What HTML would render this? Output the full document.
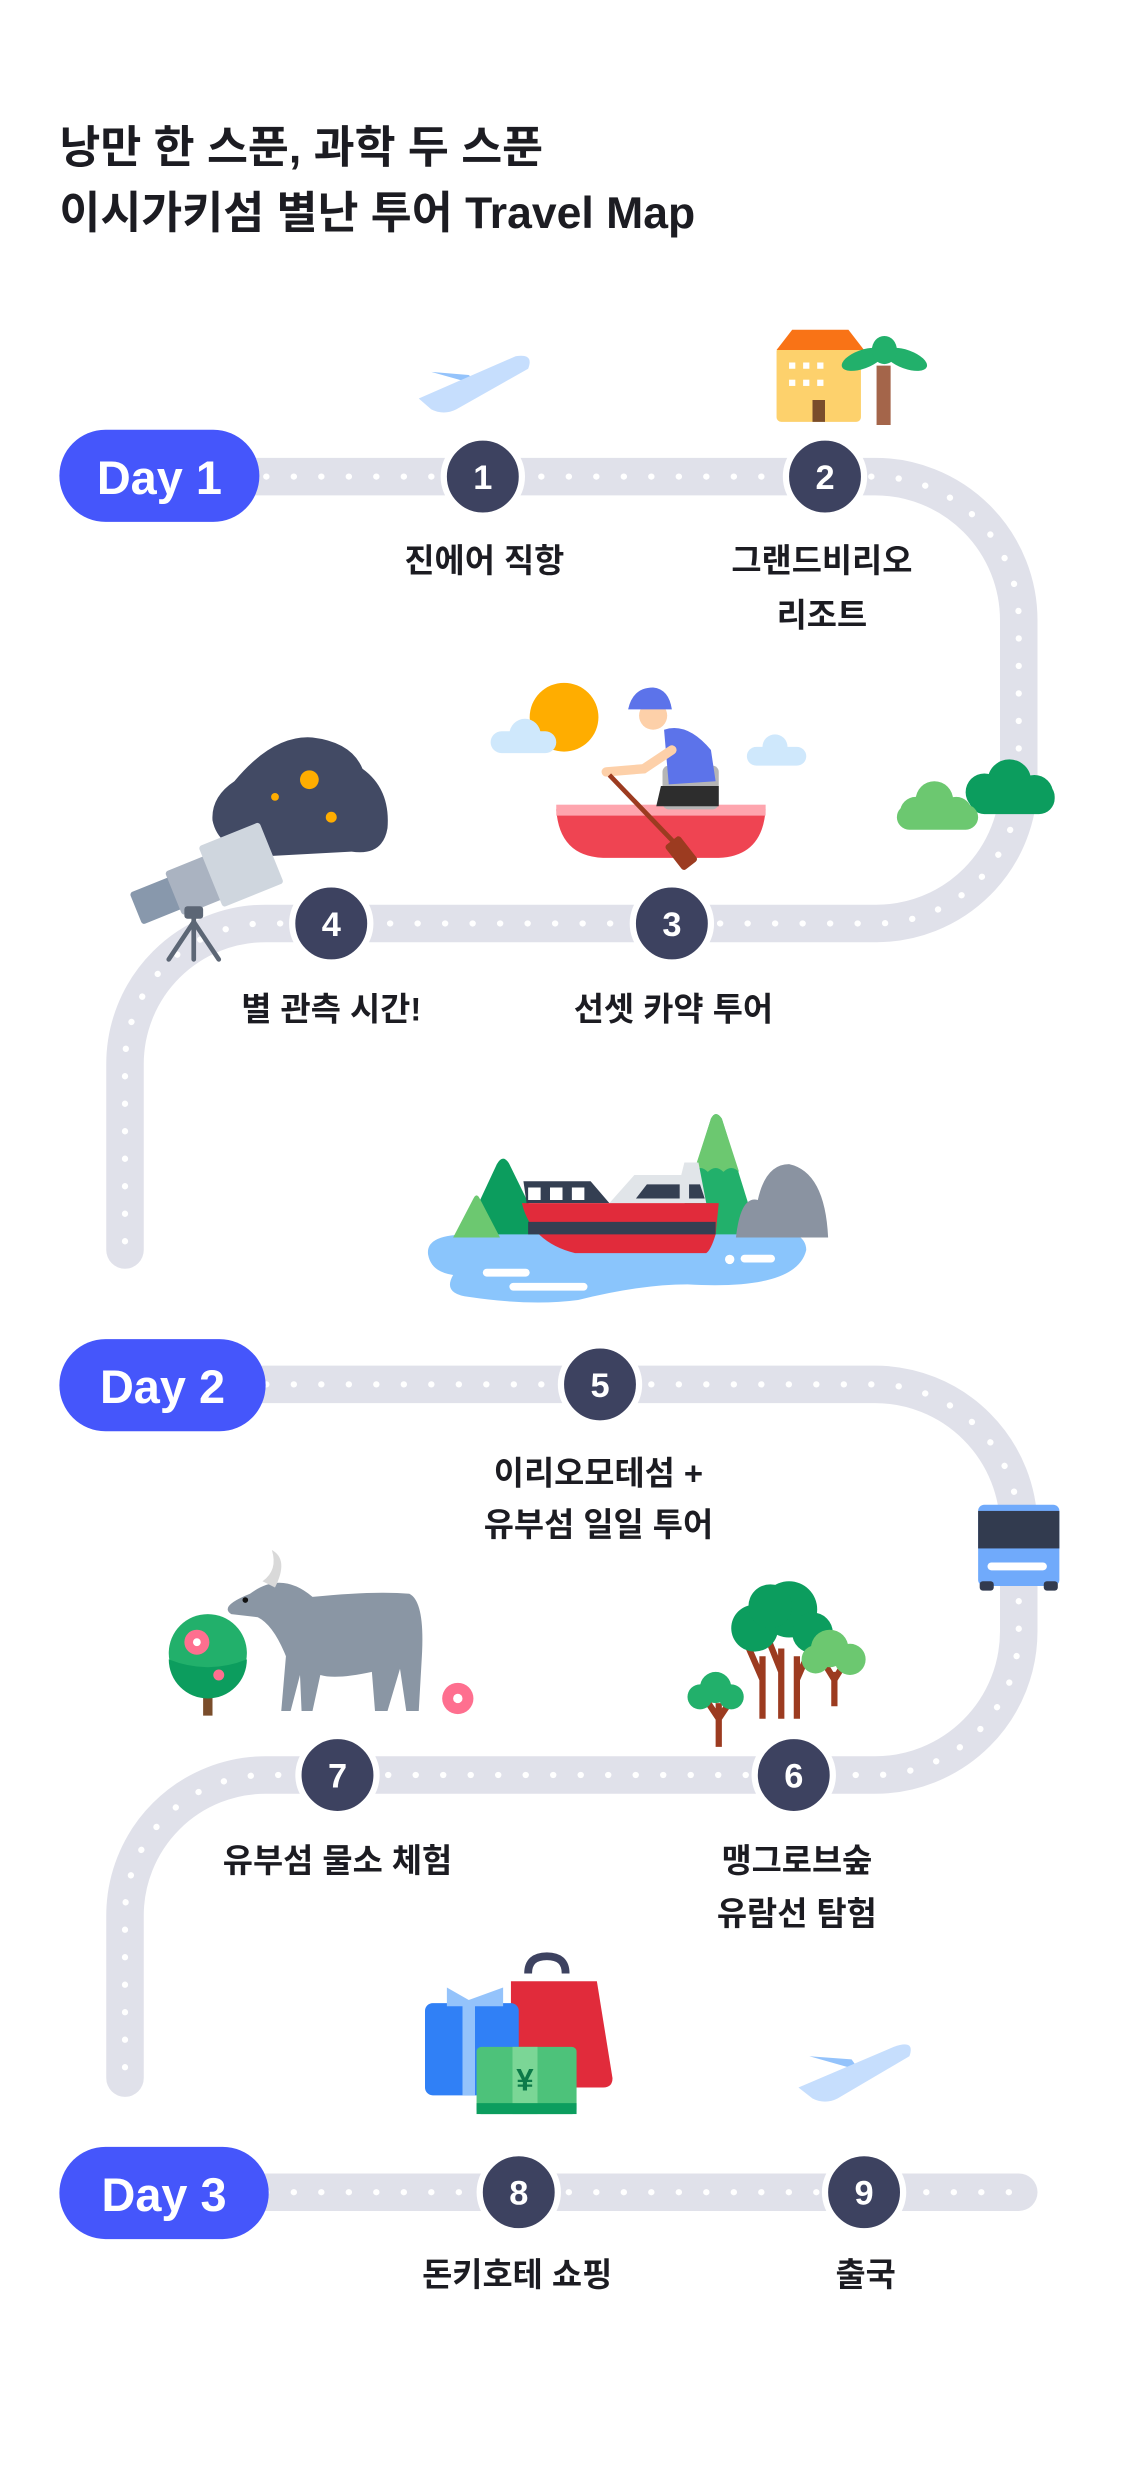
<!DOCTYPE html>
<html><head><meta charset="utf-8"><style>
html,body{margin:0;padding:0;background:#fff;}
svg{display:block;}
text{font-family:"Liberation Sans","Noto Sans CJK KR",sans-serif;font-weight:700;}
</style></head><body>
<svg width="1125" height="2484" viewBox="0 0 720 1589.76" xmlns="http://www.w3.org/2000/svg">
<!-- Title -->
<text x="38" y="104" font-size="28.5" fill="#1c1c22">낭만 한 스푼, 과학 두 스푼</text>
<text x="38" y="146" font-size="28.5" fill="#1c1c22">이시가키섬 별난 투어 Travel Map</text>

<!-- Roads -->
<g fill="none" stroke-linecap="round">
<path d="M100 305 H560 A92 92 0 0 1 652 397 V500 A91 91 0 0 1 561 591 H170 A90 90 0 0 0 80 681 V800" stroke="#e0e1ea" stroke-width="24"/>
<path d="M100 305 H560 A92 92 0 0 1 652 397 V500 A91 91 0 0 1 561 591 H170 A90 90 0 0 0 80 681 V800" stroke="#fff" stroke-width="4" stroke-dasharray="0.1 17.5"/>
<path d="M100 886 H560 A92 92 0 0 1 652 978 V1044 A92 92 0 0 1 560 1136 H170 A90 90 0 0 0 80 1226 V1330" stroke="#e0e1ea" stroke-width="24"/>
<path d="M100 886 H560 A92 92 0 0 1 652 978 V1044 A92 92 0 0 1 560 1136 H170 A90 90 0 0 0 80 1226 V1330" stroke="#fff" stroke-width="4" stroke-dasharray="0.1 17.5"/>
<path d="M100 1403 H652" stroke="#e0e1ea" stroke-width="24"/>
<path d="M100 1403 H652" stroke="#fff" stroke-width="4" stroke-dasharray="0.1 17.5"/>
</g>

<!-- Day pills -->
<rect x="38" y="275" width="128" height="59" rx="29.5" fill="#4556fb"/>
<text x="102" y="316" font-size="30" fill="#fff" text-anchor="middle">Day 1</text>
<rect x="38" y="857" width="132" height="59" rx="29.5" fill="#4556fb"/>
<text x="104" y="898" font-size="30" fill="#fff" text-anchor="middle">Day 2</text>
<rect x="38" y="1374" width="134" height="59" rx="29.5" fill="#4556fb"/>
<text x="105" y="1415" font-size="30" fill="#fff" text-anchor="middle">Day 3</text>

<!-- Number circles -->
<g fill="#3d4260" stroke="#fff" stroke-width="4">
<circle cx="309" cy="305" r="25"/><circle cx="528" cy="305" r="25"/>
<circle cx="430" cy="591" r="25"/><circle cx="212" cy="591" r="25"/>
<circle cx="384" cy="886" r="25"/><circle cx="508" cy="1136" r="25"/>
<circle cx="216" cy="1136" r="25"/><circle cx="332" cy="1403" r="25"/>
<circle cx="553" cy="1403" r="25"/>
</g>
<g font-size="22" fill="#fff" text-anchor="middle">
<text x="309" y="313">1</text><text x="528" y="313">2</text>
<text x="430" y="599">3</text><text x="212" y="599">4</text>
<text x="384" y="894">5</text><text x="508" y="1144">6</text>
<text x="216" y="1144">7</text><text x="332" y="1411">8</text>
<text x="553" y="1411">9</text>
</g>

<!-- Labels -->
<g font-size="21" fill="#1c1c22" text-anchor="middle">
<text x="310" y="366">진에어 직항</text>
<text x="526" y="366">그랜드비리오</text><text x="526" y="401">리조트</text>
<text x="431" y="653">선셋 카약 투어</text>
<text x="212" y="653">별 관측 시간!</text>
<text x="383" y="950">이리오모테섬 +</text><text x="383" y="983">유부섬 일일 투어</text>
<text x="510" y="1198">맹그로브숲</text><text x="510" y="1232">유람선 탐험</text>
<text x="216" y="1198">유부섬 물소 체험</text>
<text x="331" y="1463">돈키호테 쇼핑</text>
<text x="554" y="1463">출국</text>
</g>

<!-- Plane 1 -->
<g>
<path d="M276 238 L300 240 L308 247 Z" fill="#94c3fb"/>
<path d="M268 255 L330 228 Q342 226 338 236 L292 262 Q284 266 276 262 Z" fill="#c6defd"/>
</g>
<!-- Hotel -->
<rect x="497" y="222" width="54" height="48" rx="3" fill="#fdd16c"/>
<path d="M497 224 L507 211 L543 211 L553 224 Z" fill="#f97316"/>
<g fill="#fff"><rect x="505" y="232" width="4" height="4"/><rect x="514" y="232" width="4" height="4"/><rect x="523" y="232" width="4" height="4"/><rect x="505" y="243" width="4" height="4"/><rect x="514" y="243" width="4" height="4"/><rect x="523" y="243" width="4" height="4"/></g>
<rect x="520" y="256" width="8" height="14" fill="#7a4d2b"/>
<rect x="561" y="234" width="9" height="38" fill="#a4654a"/>
<g fill="#22b06b"><ellipse cx="552" cy="230" rx="14" ry="6" transform="rotate(-20 552 230)"/><ellipse cx="580" cy="230" rx="14" ry="6" transform="rotate(20 580 230)"/><ellipse cx="566" cy="224" rx="8" ry="9"/></g>
<!-- Bushes -->
<g>
<circle cx="646" cy="500" r="14" fill="#0c9d5e"/><circle cx="630" cy="507" r="12" fill="#0c9d5e"/><circle cx="662" cy="508" r="12" fill="#0c9d5e"/><rect x="620" y="500" width="55" height="21" rx="10" fill="#0c9d5e"/>
<circle cx="598" cy="512" r="12" fill="#6cc870"/><circle cx="586" cy="520" r="10" fill="#6cc870"/><circle cx="612" cy="520" r="10" fill="#6cc870"/><rect x="574" y="515" width="52" height="16" rx="8" fill="#6cc870"/>
</g>
<!-- Sun & clouds & kayak -->
<circle cx="361" cy="459" r="22" fill="#ffad00"/>
<g fill="#cfe8fc"><circle cx="336" cy="470" r="10"/><rect x="314" y="468" width="42" height="14" rx="7"/><circle cx="496" cy="478" r="8"/><rect x="478" y="478" width="38" height="12" rx="6"/></g>
<path d="M356 518 H490 Q488 548 460 549 H386 Q358 548 356 518 Z" fill="#ef4452"/>
<rect x="356" y="515" width="134" height="7" fill="#fea5ae"/>
<rect x="424" y="490" width="36" height="28" rx="4" fill="#b5b5b5"/>
<path d="M423 503 H460 V516 H420 Z" fill="#2d2d2d"/>
<path d="M425 467 Q440 462 455 480 L458 500 L428 502 Z" fill="#5c73ea"/>
<circle cx="418" cy="458" r="9" fill="#fdd0a9"/>
<path d="M402 454 Q405 440 418 440 Q428 441 430 454 Z" fill="#5c73ea"/>
<path d="M388 494 L412 492 L430 480" stroke="#fdd0a9" stroke-width="6" fill="none" stroke-linecap="round"/>
<path d="M390 496 L438 546" stroke="#9c3b20" stroke-width="3"/>
<rect x="430" y="536" width="12" height="20" rx="2" fill="#9c3b20" transform="rotate(-38 436 546)"/>
<!-- Night cloud & telescope -->
<path d="M150 500 Q175 470 200 472 Q225 475 232 492 Q250 505 248 530 Q245 548 225 545 L170 548 Q140 545 136 525 Q135 510 150 500 Z" fill="#424a64"/>
<g fill="#ffad00"><circle cx="198" cy="499" r="6"/><circle cx="212" cy="523" r="3.5"/><circle cx="176" cy="510" r="2.5"/></g>
<g transform="rotate(-22 130 560)">
<rect x="82" y="553" width="30" height="22" rx="2" fill="#8898ac"/>
<rect x="108" y="549" width="30" height="30" rx="2" fill="#aab3c1"/>
<rect x="134" y="542" width="42" height="42" rx="2" fill="#cfd6de"/>
</g>
<g stroke="#5c6675" stroke-width="3" stroke-linecap="round"><path d="M124 582 V614"/><path d="M124 590 L108 614"/><path d="M124 590 L140 614"/></g>
<rect x="118" y="580" width="12" height="8" rx="2" fill="#5c6675"/>
<!-- Boat scene -->
<path d="M300 790 Q272 790 274 803 Q276 814 290 816 Q283 828 300 830 Q340 836 370 832 Q410 822 440 822 Q510 826 516 800 Q516 785 480 785 L300 788 Z" fill="#8ac5fc"/>
<path d="M297 790 L318 745 Q322 738 326 745 L348 790 Z" fill="#0c9d5e"/>
<path d="M290 792 L303 767 Q305 763 307 767 L320 792 Z" fill="#6cc870"/>
<path d="M432 790 L455 716 Q458 710 462 716 L485 790 Z" fill="#22b06b"/>
<path d="M444 750 L455 716 Q458 710 462 716 L473 750 Q468 745 463 750 Q458 745 453 750 Q448 745 444 750 Z" fill="#6cc870"/>
<path d="M471 792 Q474 765 485 768 Q490 745 505 745 Q528 750 530 792 Z" fill="#8a93a1"/>
<path d="M390 770 L406 752 L436 752 L438 744 L447 744 L452 770 Z" fill="#e1e5e9"/>
<path d="M407 767 L414 758 L435 758 L435 767 Z M441 758 L448 758 L451 767 L441 767 Z" fill="#343f52"/>
<path d="M335 756 L378 756 L390 770 L337 770 Z" fill="#343f52"/>
<path d="M338 760 H346 V768 H338 Z M352 760 H360 V768 H352 Z M366 760 H374 V768 H366 Z" fill="#fff"/>
<path d="M334 770 H460 L458 790 Q455 800 452 802 H368 Q340 795 334 770 Z" fill="#e12b3b"/>
<rect x="338" y="782" width="120" height="8" fill="#343f52"/>
<g fill="#fff"><rect x="309" y="812" width="30" height="5" rx="2.5"/><rect x="326" y="821" width="50" height="5" rx="2.5"/><circle cx="467" cy="806" r="3"/><rect x="474" y="803" width="22" height="5" rx="2.5"/></g>
<!-- Bus -->
<rect x="626" y="963" width="52" height="52" rx="4" fill="#70aafb"/>
<rect x="626" y="967" width="52" height="24" fill="#323b4f"/>
<rect x="632" y="1000" width="38" height="5" rx="2.5" fill="#fff"/>
<rect x="627" y="1012" width="9" height="6" rx="2" fill="#323b4f"/><rect x="668" y="1012" width="9" height="6" rx="2" fill="#323b4f"/>
<!-- Ox -->
<path d="M160 1020 Q180 1005 200 1022 Q240 1018 262 1020 Q272 1025 270 1060 L268 1095 H260 L256 1068 L248 1095 H240 L238 1070 Q215 1075 205 1072 L200 1095 H193 L192 1072 L186 1095 H180 L183 1060 Q175 1040 165 1035 L148 1033 Q140 1028 160 1020 Z" fill="#8a96a4"/>
<path d="M168 1012 Q178 1005 174 992 Q185 998 176 1016 Z" fill="#d9d9d9"/>
<circle cx="157" cy="1024" r="1.8" fill="#111"/>
<!-- flowering tree -->
<rect x="130" y="1070" width="6" height="28" fill="#7a4d2b"/>
<circle cx="133" cy="1058" r="25" fill="#22b06b"/>
<path d="M108 1062 A25 25 0 0 0 158 1062 Q133 1072 108 1062 Z" fill="#0c9d5e"/>
<circle cx="126" cy="1051" r="8" fill="#fe6f8f"/><circle cx="126" cy="1051" r="2.5" fill="#fff"/>
<circle cx="140" cy="1072" r="3.5" fill="#fe6f8f"/>
<circle cx="293" cy="1087" r="10" fill="#fe6f8f"/><circle cx="293" cy="1087" r="3" fill="#fff"/>
<!-- Mangrove trees -->
<g stroke="#9c3b20" stroke-width="4" fill="none">
<path d="M488 1100 V1060 M488 1075 L478 1052 M500 1100 V1055 M510 1100 V1060 M510 1075 L520 1052 M500 1070 L492 1050"/>
<path d="M534 1092 V1070 M534 1075 L526 1062 M534 1075 L542 1062"/>
<path d="M460 1118 V1090 M460 1100 L452 1088 M460 1100 L468 1088"/>
</g>
<g fill="#0c9d5e"><circle cx="505" cy="1030" r="18"/><circle cx="483" cy="1042" r="15"/><circle cx="520" cy="1045" r="13"/><circle cx="493" cy="1028" r="14"/></g>
<g fill="#6cc870"><circle cx="531" cy="1055" r="12"/><circle cx="522" cy="1062" r="9"/><circle cx="544" cy="1062" r="10"/></g>
<g fill="#22b06b"><circle cx="458" cy="1080" r="10"/><circle cx="448" cy="1086" r="8"/><circle cx="468" cy="1086" r="8"/></g>
<!-- Shopping -->
<path d="M338 1263 Q338 1252 350 1252 Q362 1252 362 1263" stroke="#3d4260" stroke-width="5" fill="none"/>
<path d="M327 1268 H382 L392 1330 Q392 1336 386 1336 H327 Z" fill="#e12b3b"/>
<rect x="272" y="1282" width="60" height="59" rx="5" fill="#3080f6"/>
<rect x="296" y="1282" width="8" height="59" fill="#94c3fb"/>
<path d="M286 1272 L300 1280 L322 1272 L322 1284 L286 1284 Z" fill="#94c3fb"/>
<rect x="305" y="1310" width="64" height="43" rx="3" fill="#4dc27a"/>
<rect x="328" y="1310" width="16" height="43" fill="#7bd696"/>
<rect x="305" y="1346" width="64" height="7" fill="#0c9d5e"/>
<text x="336" y="1338" font-size="20" fill="#0c7a49" text-anchor="middle">¥</text>
<!-- Plane 2 -->
<path d="M518 1316 L545 1318 L550 1325 Z" fill="#94c3fb"/>
<path d="M511 1336 L572 1310 Q586 1305 582 1316 L536 1343 Q528 1347 520 1343 Z" fill="#c6defd"/>
</svg>
</body></html>
